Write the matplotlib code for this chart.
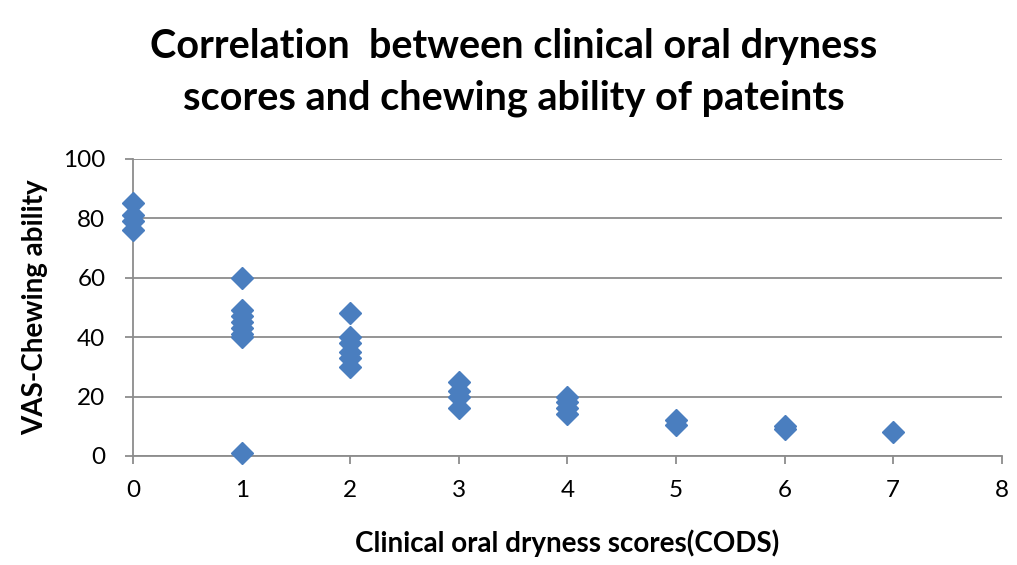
import matplotlib.pyplot as plt

# clinical oral dryness score and VAS chewing ability per patient group
cods_0 = [85, 81, 79, 76]
cods_1 = [60, 49, 47, 45, 43, 41, 40, 1]
cods_2 = [48, 40, 38, 35, 33, 30]
cods_3 = [25, 22, 20, 16]
cods_4 = [20, 18, 16, 14]
cods_5 = [12, 10.5]
cods_6 = [10, 9]
cods_7 = [8]

groups = [cods_0, cods_1, cods_2, cods_3, cods_4, cods_5, cods_6, cods_7]
xs = []
ys = []
for score, vals in enumerate(groups):
    xs += [score] * len(vals)
    ys += vals

plt.rcParams['font.family'] = ['Lato', 'DejaVu Sans']

fig = plt.figure(figsize=(10.17, 5.65), dpi=100)
ax = fig.add_axes([0.131, 0.193, 0.854, 0.526])

ax.plot(xs, ys, linestyle='none', marker='D', markersize=11,
        color='#4A7EBF', zorder=3, clip_on=False)

ax.set_xlim(0, 8)
ax.set_ylim(0, 100)
ax.set_xticks(range(0, 9))
ax.set_yticks(range(0, 101, 20))
ax.yaxis.grid(True, color='#8c8c8c', linewidth=1.3)
ax.set_axisbelow(True)

for side in ['top', 'right']:
    ax.spines[side].set_visible(False)
for side in ['left', 'bottom']:
    ax.spines[side].set_color('#8c8c8c')
    ax.spines[side].set_linewidth(1.3)
ax.tick_params(axis='both', colors='#8c8c8c', length=6, width=1.3,
               labelsize=17.5, labelcolor='black')
ax.tick_params(axis='x', pad=11)
ax.tick_params(axis='y', pad=14)

ax.set_xlabel('Clinical oral dryness scores(CODS)', fontsize=20,
              fontweight='bold', va='center')
ax.xaxis.set_label_coords(0.5, -0.293)
ax.set_ylabel('VAS-Chewing ability', fontsize=20, fontweight='bold',
              va='center')
ax.yaxis.set_label_coords(-0.113, 0.5)

fig.text(0.505, 0.872, 'Correlation  between clinical oral dryness\nscores and chewing ability of pateints',
         ha='center', va='center', fontsize=28.5, fontweight='bold',
         linespacing=1.5)

fig.savefig('out.png', dpi=100)
